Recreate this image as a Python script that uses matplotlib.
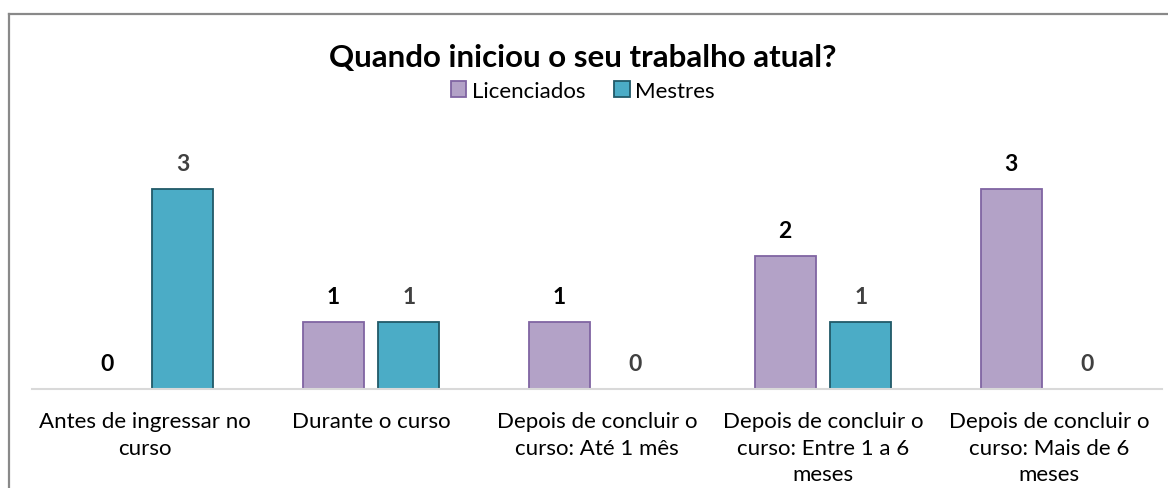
import numpy as np
import matplotlib.pyplot as plt

plt.rcParams['font.family'] = ['Lato', 'DejaVu Sans']

categories = ["Antes de ingressar no\ncurso", "Durante o curso",
              "Depois de concluir o\ncurso: Até 1 mês",
              "Depois de concluir o\ncurso: Entre 1 a 6\nmeses",
              "Depois de concluir o\ncurso: Mais de 6\nmeses"]
licenciados = [0, 1, 1, 2, 3]
mestres = [3, 1, 0, 1, 0]

W, H = 1168, 489
fig = plt.figure(figsize=(W / 100, H / 100), dpi=100)

# chart area border (left / top only, picture is cropped)
fig.add_artist(plt.Line2D([9 / W, 9 / W], [0, 1 - 15 / H], color='#898989', lw=1.6,
                          transform=fig.transFigure))
fig.add_artist(plt.Line2D([9 / W, 1], [1 - 15 / H, 1 - 15 / H], color='#898989', lw=1.6,
                          transform=fig.transFigure))

ax = fig.add_axes([32 / W, 99 / H, 1130 / W, 267 / H])
x = np.arange(len(categories))
w = 0.27
off = 0.168
b1 = ax.bar(x - off, licenciados, w, color='#b3a2c7', edgecolor='#8064a2', lw=1.3,
            label='Licenciados')
b2 = ax.bar(x + off, mestres, w, color='#4bacc6', edgecolor='#215968', lw=1.3,
            label='Mestres')

for xi, v in zip(x, licenciados):
    ax.text(xi - off, v + 0.38, str(v), ha='center', va='center', fontsize=16.5,
            fontweight='bold', color='#000000')
for xi, v in zip(x, mestres):
    ax.text(xi + off, v + 0.38, str(v), ha='center', va='center', fontsize=16.5,
            fontweight='bold', color='#404040')

ax.set_xlim(-0.5, len(categories) - 0.5)
ax.set_ylim(0, 4)
ax.set_xticks(x)
ax.set_xticklabels(categories, fontsize=16, linespacing=1.4, va='top')
ax.tick_params(axis='x', length=0, pad=16)
ax.set_yticks([])
for s in ['top', 'right', 'left']:
    ax.spines[s].set_visible(False)
ax.spines['bottom'].set_color('#d9d9d9')
ax.spines['bottom'].set_linewidth(1.5)

fig.text(583 / W, 1 - 58 / H, "Quando iniciou o seu trabalho atual?", ha='center',
         va='center', fontsize=22.5, fontweight='bold')
fig.legend(handles=[b1, b2], loc='center', bbox_to_anchor=(583 / W, 1 - 92 / H),
           ncol=2, frameon=False, fontsize=16, handlelength=0.7, handleheight=0.7,
           handletextpad=0.25, columnspacing=1.3)

fig.savefig('out.png', dpi=100)
